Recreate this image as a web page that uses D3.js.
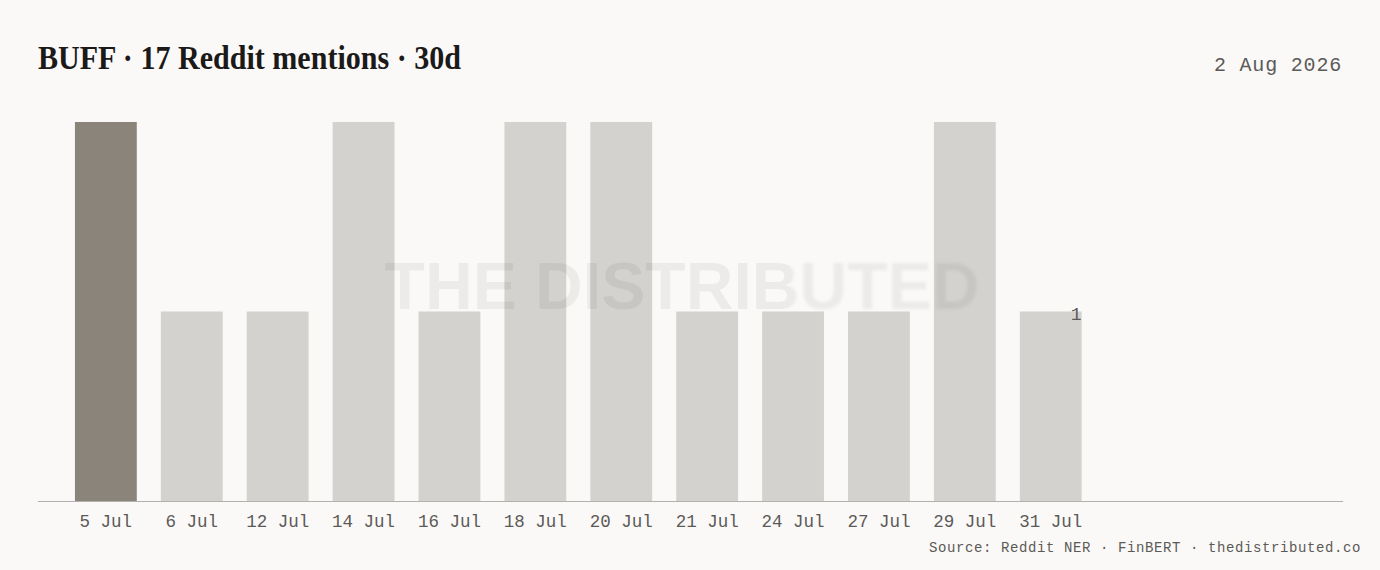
<!DOCTYPE html>
<html>
<head>
<meta charset="utf-8">
<script src="https://d3js.org/d3.v7.min.js"></script>
<title>BUFF Reddit mentions</title>
<style>
  html, body { margin: 0; padding: 0; background: #faf9f7; }
  svg { display: block; }
</style>
</head>
<body>
<script>
// data
var days = ["5 Jul", "6 Jul", "12 Jul", "14 Jul", "16 Jul", "18 Jul",
            "20 Jul", "21 Jul", "24 Jul", "27 Jul", "29 Jul", "31 Jul"];
var mentions = [2, 1, 1, 2, 1, 2, 2, 1, 1, 1, 2, 1];
var highlightDay = "5 Jul";
var labelDay = "31 Jul";
var title = "BUFF · 17 Reddit mentions · 30d";
var dateText = "2 Aug 2026";
var sourceText = "Source: Reddit NER · FinBERT · thedistributed.co";

var W = 1380, H = 570,
    plotL = 38, plotR = 1343,
    plotT = 122, plotB = 501,
    mono = "'Liberation Mono', 'DejaVu Sans Mono', monospace";

var rows = days.map(function(d, i){ return {day: d, n: mentions[i]}; });

var svg = d3.select("body").append("svg")
  .attr("width", W)
  .attr("height", H);

svg.append("rect").attr("width", W).attr("height", H).attr("fill", "#faf9f7");

var x = d3.scaleBand()
  .domain(days)
  .range([plotL, 1118.6])
  .paddingInner(0.28)
  .paddingOuter(0.43);

var y = d3.scaleLinear()
  .domain([0, d3.max(mentions)])
  .range([plotB, plotT]);

// bars
svg.append("g").selectAll("rect")
  .data(rows)
  .enter().append("rect")
    .attr("x", function(d){ return x(d.day); })
    .attr("y", function(d){ return y(d.n); })
    .attr("width", x.bandwidth())
    .attr("height", function(d){ return y(0) - y(d.n); })
    .attr("fill", function(d){ return d.day == highlightDay ? "#8a847b" : "#d3d2ce"; });

// watermark, right end a bit smeared
var defs = svg.append("defs");
defs.append("filter").attr("id", "smear")
  .append("feGaussianBlur").attr("stdDeviation", 1.6);
defs.append("clipPath").attr("id", "wmL")
  .append("rect").attr("x", 0).attr("y", 0).attr("width", 790).attr("height", H);
defs.append("clipPath").attr("id", "wmR")
  .append("rect").attr("x", 790).attr("y", 0).attr("width", W - 790).attr("height", H);

function watermark(clip, blur){
  var t = svg.append("g").attr("clip-path", "url(#" + clip + ")")
    .append("text")
      .attr("x", 682)
      .attr("y", 309)
      .attr("text-anchor", "middle")
      .attr("font-family", "'Liberation Sans', Arial, sans-serif")
      .attr("font-weight", "bold")
      .attr("font-size", 66)
      .attr("fill", "#000")
      .attr("fill-opacity", 0.055)
      .attr("textLength", 595)
      .attr("lengthAdjust", "spacingAndGlyphs")
      .text("THE DISTRIBUTED");
  if (blur) t.attr("filter", "url(#smear)");
}
watermark("wmL", false);
watermark("wmR", true);

// baseline
svg.append("line")
  .attr("x1", plotL).attr("x2", plotR)
  .attr("y1", plotB + 0.5).attr("y2", plotB + 0.5)
  .attr("stroke", "#b3b1ad")
  .attr("stroke-width", 1);

// x axis labels
var xAxis = d3.axisBottom(x).tickSize(0).tickPadding(0);
var ax = svg.append("g")
  .attr("transform", "translate(0," + plotB + ")")
  .call(xAxis);
ax.select(".domain").remove();
ax.selectAll("text")
  .attr("dy", null)
  .attr("y", 26)
  .attr("font-family", mono)
  .attr("font-size", 17.5)
  .attr("fill", "#5c5a57");

// value label on the last bar
var last = rows.filter(function(d){ return d.day == labelDay; })[0];
svg.append("text")
  .attr("x", x(last.day) + x.bandwidth())
  .attr("y", y(last.n) + 8)
  .attr("text-anchor", "end")
  .attr("font-family", mono)
  .attr("font-size", 18)
  .attr("fill", "#5c5a57")
  .text(last.n);

// title
svg.append("text")
  .attr("x", 38)
  .attr("y", 69)
  .attr("font-family", "'Liberation Serif', 'DejaVu Serif', serif")
  .attr("font-weight", "bold")
  .attr("font-size", 34)
  .attr("fill", "#1b1a19")
  .attr("textLength", 423)
  .attr("lengthAdjust", "spacingAndGlyphs")
  .text(title);

// date
svg.append("text")
  .attr("x", 1342)
  .attr("y", 71)
  .attr("text-anchor", "end")
  .attr("font-family", mono)
  .attr("font-size", 20)
  .attr("letter-spacing", 0.8)
  .attr("fill", "#5c5a57")
  .text(dateText);

// source
svg.append("text")
  .attr("x", 1361)
  .attr("y", 552)
  .attr("text-anchor", "end")
  .attr("font-family", mono)
  .attr("font-size", 14)
  .attr("letter-spacing", 0.6)
  .attr("fill", "#5c5a57")
  .text(sourceText);
</script>
</body>
</html>
